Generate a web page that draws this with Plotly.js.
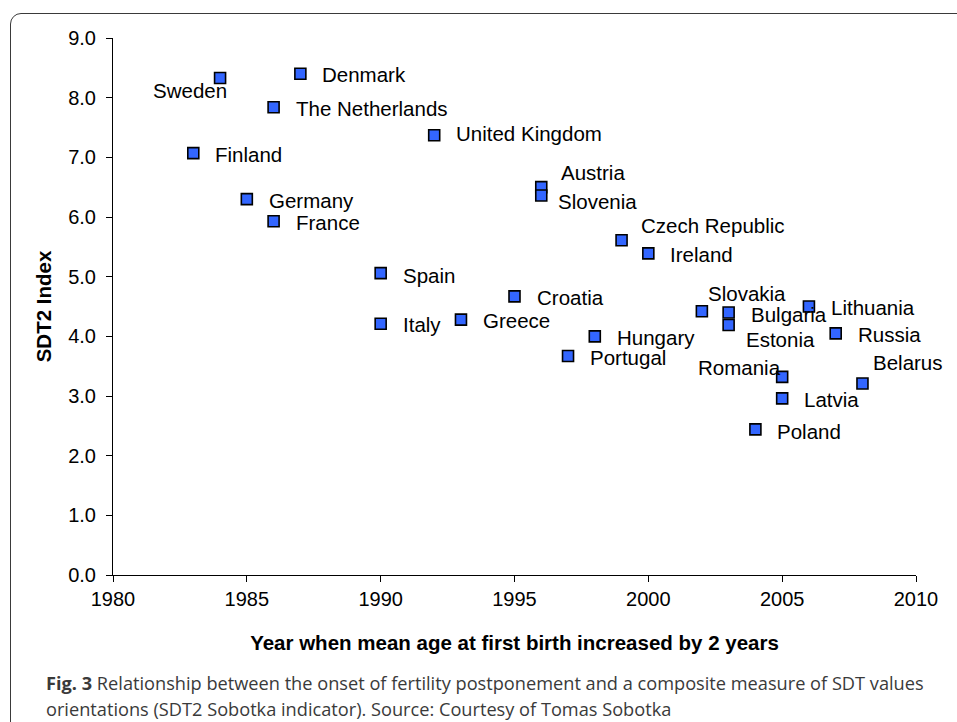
<!DOCTYPE html>
<html>
<head>
<meta charset="utf-8">
<script src="https://cdn.plot.ly/plotly-3.0.1.min.js"></script>
<style>
  html, body { margin: 0; padding: 0; background: #fff; overflow: hidden; }
  #chart { width: 957px; height: 722px; position: absolute; left: 0; top: 0; }
  #frame { position: absolute; left: 10px; top: 13px; width: 990px; height: 760px;
           border: 1.6px solid #3a3a3a; border-radius: 11px; pointer-events: none; z-index: 5; }
</style>
</head>
<body>
<div id="chart"></div>
<div id="frame"></div>
<script>
// ---- data ----
const countries = ["Sweden","Denmark","The Netherlands","United Kingdom","Finland","Germany","France",
  "Austria","Slovenia","Czech Republic","Ireland","Spain","Italy","Greece","Croatia","Hungary","Portugal",
  "Slovakia","Bulgaria","Estonia","Lithuania","Russia","Romania","Latvia","Belarus","Poland"];
const onsetYear = [1984,1987,1986,1992,1983,1985,1986,
  1996,1996,1999,2000,1990,1990,1993,1995,1998,1997,
  2002,2003,2003,2006,2007,2005,2005,2008,2004];
const sdt2Index = [8.33,8.40,7.84,7.37,7.07,6.30,5.93,
  6.50,6.36,5.61,5.39,5.06,4.21,4.28,4.67,4.00,3.67,
  4.42,4.40,4.19,4.50,4.05,3.32,2.96,3.21,2.44];
const yTickVals = [0,1,2,3,4,5,6,7,8,9];
const xTickVals = [1980,1985,1990,1995,2000,2005,2010];

// ---- label placement (style: pixel offsets from marker) ----
const labelStyle = {
  "Sweden":[8,-13,"right"], "Denmark":[21,-1,"left"], "The Netherlands":[21,-1,"left"],
  "United Kingdom":[21,2,"left"], "Finland":[21,-1,"left"], "Germany":[21,-1,"left"],
  "France":[21,-1,"left"], "Austria":[19,15,"left"], "Slovenia":[16,-6,"left"],
  "Czech Republic":[18,15,"left"], "Ireland":[21,-1,"left"], "Spain":[21,-2,"left"],
  "Italy":[21,-1,"left"], "Greece":[21,-1,"left"], "Croatia":[21,-1,"left"],
  "Hungary":[21,-1,"left"], "Portugal":[21,-1,"left"], "Slovakia":[5,18,"left"],
  "Bulgaria":[21,-2,"left"], "Estonia":[16,-14,"left"], "Lithuania":[21,-1,"left"],
  "Russia":[21,-1,"left"], "Romania":[0,9,"right"], "Latvia":[21,-1,"left"],
  "Belarus":[10,21,"left"], "Poland":[21,-2,"left"]
};

const FONT = "Liberation Sans, Arial, sans-serif";
const annotations = countries.map((c, i) => {
  const s = labelStyle[c];
  return {
    x: onsetYear[i], y: sdt2Index[i], xref: "x", yref: "y",
    text: c, showarrow: false, xanchor: s[2], yanchor: "middle",
    xshift: s[2] === "left" ? s[0] - 1 : s[0] + 1, yshift: s[1],
    font: {family: FONT, size: 20.5, color: "#000"}
  };
});

// caption
annotations.push({
  xref: "paper", yref: "paper", x: -0.0855, y: -0.201, xanchor: "left", yanchor: "middle",
  showarrow: false, align: "left",
  text: "<b>Fig. 3</b> Relationship between the onset of fertility postponement and a composite measure of SDT values",
  font: {family: "Open Sans, Noto Sans, sans-serif", size: 18.2, color: "#3a3a3a"}
});
annotations.push({
  xref: "paper", yref: "paper", x: -0.0855, y: -0.2495, xanchor: "left", yanchor: "middle",
  showarrow: false, align: "left",
  text: "orientations (SDT2 Sobotka indicator). Source: Courtesy of Tomas Sobotka",
  font: {family: "Open Sans, Noto Sans, sans-serif", size: 18.2, color: "#3a3a3a"}
});

const trace = {
  type: "scatter", mode: "markers",
  x: onsetYear, y: sdt2Index, text: countries,
  marker: {symbol: "square", size: 11, color: "#3366ff", line: {color: "#000", width: 1.6}},
  hoverinfo: "text+x+y", cliponaxis: false
};

const layout = {
  width: 957, height: 722,
  margin: {l: 113, r: 41, t: 38, b: 147},
  paper_bgcolor: "#fff", plot_bgcolor: "#fff",
  showlegend: false,
  font: {family: FONT, color: "#000"},
  xaxis: {
    range: [1980, 2010], tickvals: xTickVals, ticktext: xTickVals.map(String),
    showgrid: false, zeroline: false, showline: true, linecolor: "#000", linewidth: 1,
    ticks: "outside", ticklen: 6, tickcolor: "#000", tickwidth: 1,
    tickfont: {family: FONT, size: 20, color: "#000"},
    title: {text: "<b>Year when mean age at first birth increased by 2 years</b>",
            font: {family: FONT, size: 20.5, color: "#000"}, standoff: 26},
    automargin: false
  },
  yaxis: {
    range: [0, 9], tickvals: yTickVals, tickformat: ".1f",
    showgrid: false, zeroline: false, showline: true, linecolor: "#000", linewidth: 1,
    ticks: "outside", ticklen: 6, tickcolor: "#000", tickwidth: 1,
    tickfont: {family: FONT, size: 20, color: "#000"},
    ticklabelstandoff: 6,
    title: {text: "<b>SDT2 Index</b>", font: {family: FONT, size: 20.5, color: "#000"}, standoff: 11},
    automargin: false
  },
  annotations: annotations
};

Plotly.newPlot("chart", [trace], layout, {displayModeBar: false, staticPlot: true});
</script>
</body>
</html>
